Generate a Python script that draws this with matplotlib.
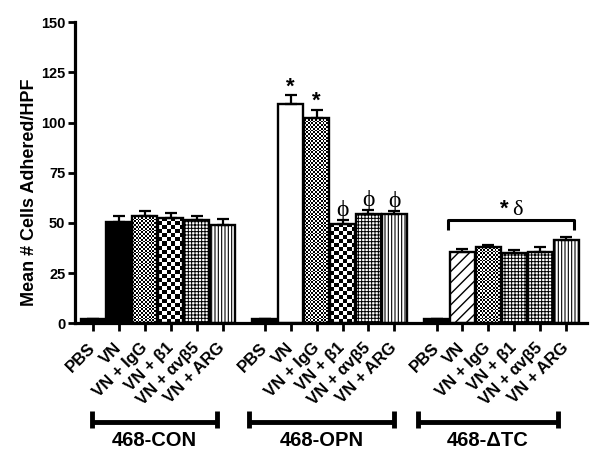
import numpy as np
import matplotlib
matplotlib.use("Agg")
import matplotlib.pyplot as plt

plt.rcParams['font.family'] = ['Liberation Sans', 'DejaVu Sans']
plt.rcParams['font.weight'] = 'bold'

# data
groups = ["468-CON", "468-OPN", "468-\u0394TC"]
conditions = ["PBS", "VN", "VN + IgG", "VN + \u03b21", "VN + \u03b1v\u03b25", "VN + ARG"]
means_con = [2.0, 50.3, 53.3, 52.5, 51.7, 48.8]
errs_con = [0.3, 3.0, 2.5, 2.3, 1.6, 3.4]
means_opn = [2.0, 109.5, 102.5, 49.5, 54.5, 54.5]
errs_opn = [0.3, 4.0, 3.8, 2.0, 1.8, 1.3]
means_dtc = [2.0, 35.8, 37.8, 35.3, 35.8, 41.3]
errs_dtc = [0.3, 1.4, 1.4, 1.4, 2.0, 1.7]
star_bars = [(1, 1), (1, 2)]        # (group, condition) with "*"
phi_bars = [(1, 3), (1, 4), (1, 5)]  # (group, condition) with "phi"

# fill style per bar: "black", "white", "fine" (small checker), "check",
# "grid", "vert", "diag"
fills = [
    ["black", "black", "fine", "check", "grid", "vert"],
    ["black", "white", "fine", "check", "grid", "vert"],
    ["black", "diag", "fine", "grid", "grid", "vert"],
]
hatches = {"grid": ("+++++", 0.7), "vert": ("|||||", 0.8), "diag": ("///", 1.0)}
checker_px = {"fine": 1.8, "check": 4.0}

group_step = 6.63
all_means = [means_con, means_opn, means_dtc]
all_errs = [errs_con, errs_opn, errs_dtc]

fig = plt.figure(figsize=(6.0, 4.62), dpi=100)
ax = fig.add_axes([0.125, 0.30, 0.853, 0.652])
ax.set_xlim(-0.7, 2 * group_step + 5.8)
ax.set_ylim(0, 150)


def checker_fill(patch, cell):
    # checkerboard image clipped to the bar
    bb = patch.get_window_extent()
    ncol = max(1, int(round(bb.width / cell)))
    nrow = max(1, int(round(bb.height / cell)))
    arr = np.add.outer(np.arange(nrow), np.arange(ncol)) % 2
    x0, y0 = patch.get_x(), patch.get_y()
    ext = [x0, x0 + patch.get_width(), y0, y0 + patch.get_height()]
    ax.imshow(arr, cmap="gray", extent=ext, origin="lower", aspect="auto",
              interpolation="nearest", zorder=1.9, clip_path=patch)


tick_pos = []
tick_lab = []
for g in range(3):
    x = g * group_step + np.arange(6)
    for i in range(6):
        kind = fills[g][i]
        fc = "black" if kind == "black" else "white"
        hatch, hlw = hatches.get(kind, ("", 1.0))
        if kind in checker_px:
            fc = "none"
        with plt.rc_context({'hatch.linewidth': hlw}):
            bars = ax.bar(x[i], all_means[g][i], width=0.97, color=fc, edgecolor="black",
                          linewidth=1.7, hatch=hatch, zorder=2)
        if kind in checker_px:
            checker_fill(bars[0], checker_px[kind])
        ax.errorbar(x[i], all_means[g][i], yerr=[[0], [all_errs[g][i]]], fmt="none",
                    ecolor="black", elinewidth=1.6, capsize=4.5, capthick=1.6, zorder=3)
    tick_pos.extend(x)
    tick_lab.extend(conditions)

# significance marks
for g, i in star_bars:
    xi = g * group_step + i
    ax.text(xi, all_means[g][i] + all_errs[g][i] - 1.0, "*", ha="center", va="bottom",
            fontsize=16, fontweight="bold")
for g, i in phi_bars:
    xi = g * group_step + i
    ax.text(xi, all_means[g][i] + all_errs[g][i] - 0.5, "\u03d5", ha="center", va="bottom",
            fontsize=17, fontweight="normal", family=["Liberation Serif", "DejaVu Serif"])

# bracket over 468-dTC treatments
bx0, bx1 = 2 * group_step + 0.43, 2 * group_step + 5.3
ax.plot([bx0, bx0, bx1, bx1], [46.4, 51.7, 51.7, 46.4], color="black", lw=2.2,
        solid_capstyle="butt", zorder=3)
ax.text((bx0 + bx1) / 2 - 0.1, 51.5, "*", ha="right", va="bottom", fontsize=16, fontweight="bold")
ax.text((bx0 + bx1) / 2 + 0.05, 51.5, "\u03b4", ha="left", va="bottom", fontsize=16,
        fontweight="normal", family=["Liberation Serif", "DejaVu Serif"])

ax.set_yticks([0, 25, 50, 75, 100, 125, 150])
ax.set_xticks(tick_pos)
ax.set_xticklabels(tick_lab, rotation=45, ha="right", va="center", rotation_mode="anchor")
ax.tick_params(axis="y", width=2, length=5, labelsize=10.5, pad=2)
ax.tick_params(axis="x", width=2, length=6, labelsize=12, pad=10)
ax.set_ylabel("Mean # Cells Adhered/HPF", fontsize=13, fontweight="bold")
ax.yaxis.set_label_coords(-0.072, 0.435)
for side in ["top", "right"]:
    ax.spines[side].set_visible(False)
for side in ["left", "bottom"]:
    ax.spines[side].set_linewidth(2.3)

# group brackets under the tick labels
spans = [(-0.06, 4.79), (6.03, 11.63), (12.53, 17.93)]
trans = ax.get_xaxis_transform()
for (a, b), name in zip(spans, groups):
    ax.plot([a, b], [-0.327, -0.327], color="black", lw=3.5, transform=trans,
            clip_on=False, solid_capstyle="butt")
    for xe in (a, b):
        ax.plot([xe, xe], [-0.29, -0.348], color="black", lw=3.5, transform=trans,
                clip_on=False, solid_capstyle="butt")
    ax.text((a + b) / 2, -0.39, name, transform=trans, ha="center", va="center",
            fontsize=14.5, fontweight="bold")

fig.savefig("out.png", dpi=100)
